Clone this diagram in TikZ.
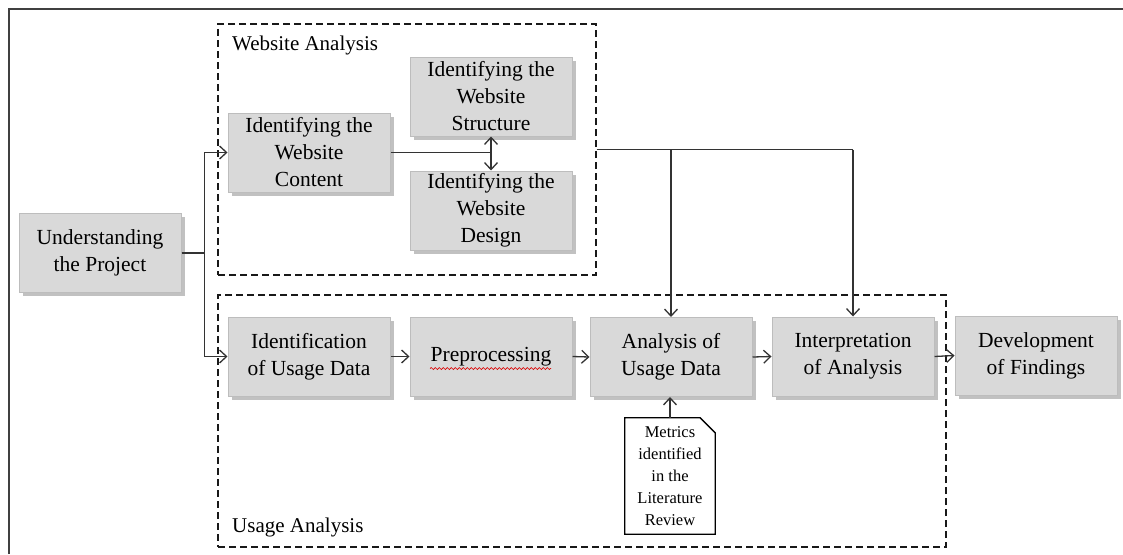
\documentclass[tikz,border=0pt]{standalone}
\usepackage{fontspec}
\setmainfont{Liberation Serif}
\usetikzlibrary{arrows.meta,shadows,decorations.pathmorphing}
\definecolor{boxfill}{HTML}{D9D9D9}
\definecolor{boxedge}{HTML}{BDBDBD}
\definecolor{inkline}{HTML}{333333}
\begin{document}
\begin{tikzpicture}[x=1pt,y=-1pt,
  stepbox/.style={draw=boxedge, fill=boxfill, line width=1pt,
    minimum width=162pt, minimum height=79pt, inner sep=0pt, align=center,
    font=\fontsize{21.5}{27}\selectfont,
    drop shadow={shadow xshift=3.5pt, shadow yshift=-3.5pt, opacity=0.35, fill=black!70}},
  group/.style={draw=black!90, line width=1.15pt, dash pattern=on 7pt off 4pt,
    inner sep=0pt},
  link/.style={draw=inkline, line width=1.3pt},
  tip/.tip={Straight Barb[length=7pt,width=13pt,line width=1.3pt]},
  flow/.style={link, -tip},
  grouplabel/.style={anchor=west, inner sep=0pt, font=\fontsize{21}{24}\selectfont}]
\useasboundingbox (0,0) rectangle (1123,554);

% page frame (top and left rule only)
\draw[line width=1.6pt, black!75] (9,554) -- (9,9) -- (1123,9);

% dashed groups
\node[group, minimum width=378pt, minimum height=251pt] (web) at (407,149.5) {};
\node[group, minimum width=728pt, minimum height=252pt] (usage) at (582,421) {};
\node[grouplabel] (weblbl) at (232,45) {Website Analysis};
\node[grouplabel] (uselbl) at (232,527) {Usage Analysis};

% process steps
\node[stepbox] (under)   at (100,253)   {Understanding\\the Project};
\node[stepbox] (content) at (309,152.5) {Identifying the\\Website\\Content};
\node[stepbox] (struct)  at (491,96.5)  {Identifying the\\Website\\Structure};
\node[stepbox] (design)  at (491,210.5) {Identifying the\\Website\\Design};
\node[stepbox] (ident)   at (309,356.5) {Identification\\of Usage Data};
\node[stepbox] (prep)    at (491,356.5) {Preprocessing};
\node[stepbox] (anal)    at (671,357)   {Analysis of\\Usage Data};
\node[stepbox] (interp)  at (853,356.5) {Interpretation\\of Analysis};
\node[stepbox] (devel)   at (1036,355.5) {Development\\of Findings};

% spell-check underline under Preprocessing
\draw[red!85!black, line width=0.7pt, decorate,
      decoration={snake, amplitude=1pt, segment length=4pt}]
  ([xshift=-61pt, yshift=-12pt]prep.center) -- ([xshift=60pt, yshift=-12pt]prep.center);

% literature note with folded corner
\node[minimum width=90pt, minimum height=116pt, inner sep=0pt, align=center,
      font=\fontsize{16.5}{22}\selectfont] (metrics) at (670,476)
  {Metrics\\identified\\in the\\Literature\\Review};
\draw[black, line width=1.3pt]
  (metrics.north west) -- ([xshift=-15pt]metrics.north east)
  -- ([yshift=-15pt]metrics.north east) -- (metrics.south east)
  -- (metrics.south west) -- cycle;

% connectors
\draw[flow] (under.east) -- ++(23,0) |- (content.west);
\draw[flow] (under.east) -- ++(23,0) |- (ident.west);
\draw[link] (content.east) -- (content.east -| struct.south);
\draw[link, tip-tip] (struct.south) -- (design.north);
\draw[link] (web.east) -- (web.east -| interp.north);
\draw[flow] (web.east -| anal.north) -- (anal.north);
\draw[flow] (web.east -| interp.north) -- (interp.north);
\draw[flow] (ident.east) -- (prep.west);
\draw[flow] (prep.east) -- (anal.west);
\draw[flow] (anal.east) -- (interp.west);
\draw[flow] (interp.east) -- (devel.west);
\draw[flow] (metrics.north) -- (metrics.north |- anal.south);
\end{tikzpicture}
\end{document}
